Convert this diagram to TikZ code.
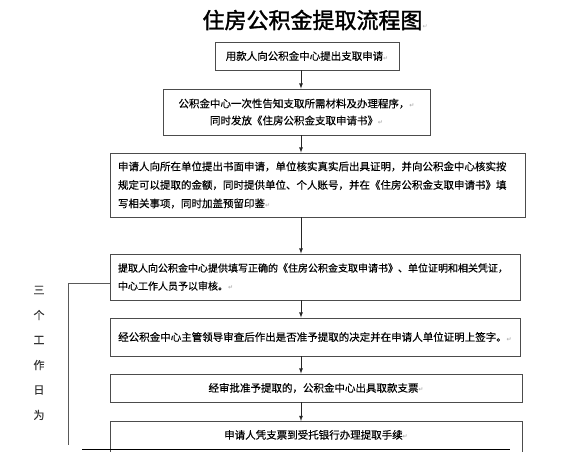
\documentclass[tikz,border=0pt]{standalone}
\usepackage{fontspec}
\setmainfont{Noto Sans CJK SC}[FakeBold=0.4,AutoFakeBold=0.4]
\newfontfamily\titlefont{Noto Sans CJK SC}[FakeBold=1.6]
\newfontfamily\symfont{DejaVu Sans}
\usetikzlibrary{positioning, arrows}
\newcommand{\ret}{{\symfont\fontsize{6}{6}\selectfont\color{gray!60}↵}}
\tikzset{
  box/.style={draw=black!70, line width=0.8pt, inner sep=0pt, align=center,
    font=\fontsize{10.5}{17}\selectfont\bfseries},
  textbox/.style={box, align=left, inner xsep=8pt},
  flow/.style={-latex, line width=0.8pt, black!85},
  bracket/.style={draw=black!65, line width=0.8pt},
  sidechar/.style={font=\fontsize{11}{11}\selectfont, text=black!80},
  x=1pt, y=-1pt
}

\begin{document}
\begin{tikzpicture}
  \useasboundingbox (0,0) rectangle (573,452);

  % title
  \node[anchor=west, font=\titlefont\fontsize{22}{22}\selectfont] (title) at (199,20) {住房公积金提取流程图\ret};

  % steps
  \node[box, minimum width=184pt, minimum height=28pt] (apply) at (307,56)
    {用款人向公积金中心提出支取申请\ret};
  \node[box, minimum width=267pt, minimum height=46pt] (inform) at (296.5,112)
    {公积金中心一次性告知支取所需材料及办理程序，\ret\\
     同时发放《住房公积金支取申请书》\ret};
  \node[textbox, text width=399pt, minimum height=64pt,
    font=\fontsize{10.5}{18.5}\selectfont\bfseries] (unit) at (317.5,185)
    {申请人向所在单位提出书面申请，单位核实真实后出具证明，并向公积金中心核实按\\
     规定可以提取的金额，同时提供单位、个人账号，并在《住房公积金支取申请书》填\\
     写相关事项，同时加盖预留印鉴\ret};
  \node[textbox, text width=394pt, minimum height=46pt,
    font=\fontsize{10}{18}\selectfont\bfseries] (submit) at (315,277)
    {提取人向公积金中心提供填写正确的《住房公积金支取申请书》、单位证明和相关凭证，\\
     中心工作人员予以审核。\ret};
  \node[box, minimum width=410pt, minimum height=38pt] (review) at (315,337)
    {经公积金中心主管领导审查后作出是否准予提取的决定并在申请人单位证明上签字。\ret};
  \node[box, minimum width=412pt, minimum height=28pt] (cheque) at (316,388)
    {经审批准予提取的，公积金中心出具取款支票\ret};
  \node[box, minimum width=412pt, minimum height=35pt, anchor=north] (bank) at (316,421)
    {\raisebox{9pt}{申请人凭支票到受托银行办理提取手续\ret}};

  % arrows along the axis
  \coordinate (axis) at (301,0);
  \draw[flow] (apply.south -| axis) -- (inform.north -| axis);
  \draw[flow] (inform.south -| axis) -- (unit.north -| axis);
  \draw[flow] (unit.south -| axis) -- (submit.north -| axis);
  \draw[flow] (submit.south -| axis) -- (review.north -| axis);
  \draw[flow] (review.south -| axis) -- (cheque.north -| axis);
  \draw[flow] (cheque.south -| axis) -- (bank.north -| axis);

  % three working days
  \coordinate (brkend) at (68,445);
  \draw[bracket] ([yshift=-6pt]submit.west) -| (brkend);
  \foreach \ch [count=\i] in {三,个,工,作,日,为}
    \node[sidechar] (day\i) at (39,265+25*\i) {\ch};

  % bottom rule
  \coordinate (ruleL) at (82,449);
  \coordinate (ruleR) at (510,449);
  \draw[line width=0.9pt] (ruleL) -- (ruleR);
\end{tikzpicture}
\end{document}
